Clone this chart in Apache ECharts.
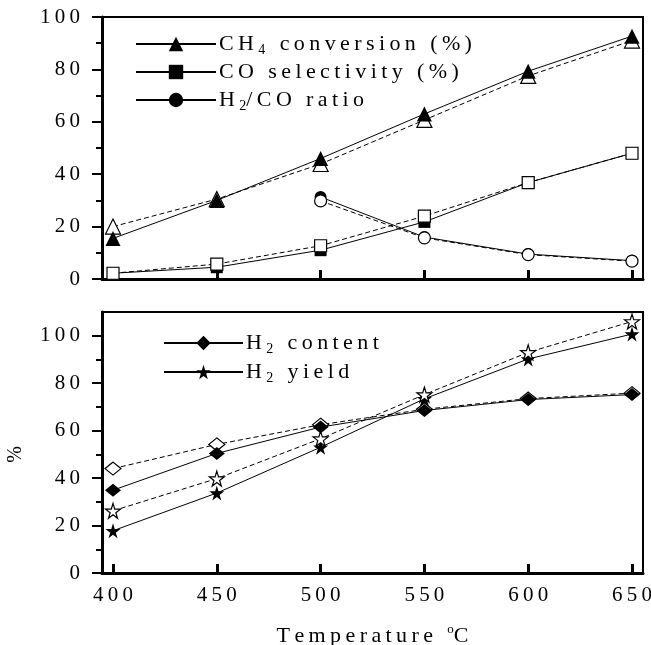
<!DOCTYPE html>
<html>
<head>
<meta charset="utf-8">
<script src="https://cdn.jsdelivr.net/npm/echarts@6/dist/echarts.min.js"></script>
<style>
  html, body { margin: 0; padding: 0; background: #fff; }
  #chart { width: 651px; height: 645px; }
</style>
</head>
<body>
<div id="chart"></div>
<script>
// temperatures (°C)
const temps = [400, 450, 500, 550, 600, 650]
const xTicks = [400, 450, 500, 550, 600, 650]
const yTicksTop = [0, 20, 40, 60, 80, 100]
const yTicksBottom = [0, 20, 40, 60, 80, 100]
const yMinorTop = [10, 30, 50, 70, 90]
const yMinorBottom = [10, 30, 50, 70, 90]

// top panel, filled = solid line, open = dashed line
const ch4Filled = [15.5, 30.0, 46.0, 63.0, 79.3, 92.7]
const ch4Open = [20.0, 30.5, 43.9, 60.7, 77.5, 91.0]
const coFilled = [2.2, 4.5, 11.0, 21.8, 36.8, 48.0]
const coOpen = [2.2, 5.7, 12.7, 24.0, 36.8, 48.0]
const ratioFilled = [null, null, 31.3, 16.0, 9.5, 7.0]
const ratioOpen = [null, null, 29.8, 15.7, 9.3, 6.8]

// bottom panel
const h2ContentFilled = [34.9, 50.4, 61.5, 68.5, 73.1, 75.2]
const h2ContentOpen = [44.0, 54.2, 62.5, 69.0, 73.5, 75.8]
const h2YieldFilled = [17.8, 33.7, 53.0, 73.4, 90.2, 100.7]
const h2YieldOpen = [26.2, 39.8, 56.6, 75.2, 93.0, 106.0]

const FONT = 'Liberation Serif'
const sp = s => s.split('').join('\u2009')
const pairs = vals => temps.map((t, i) => [t, vals[i]]).filter(p => p[1] != null)

const star = 'path://M50,0 L61,35 L98,35 L68,57 L79,91 L50,70 L21,91 L32,57 L2,35 L39,35 Z'

const legendText = {
  'CH4 conversion (%)': sp('CH') + '\u2009{sub|4}\u2009' + sp(' conversion (%)'),
  'CO selectivity (%)': sp('CO selectivity (%)'),
  'H2/CO ratio': sp('H') + '\u2009{sub|2}' + sp('/CO ratio'),
  'H2 content': sp('H') + '\u2009{sub|2}\u2009' + sp(' content'),
  'H2 yield': sp('H') + '\u2009{sub|2}\u2009' + sp(' yield')
}

function mk(name, vals, symbol, size, filled, xi, z) {
  return {
    name: name,
    type: 'line',
    xAxisIndex: xi,
    yAxisIndex: xi === 0 ? 0 : 2,
    data: pairs(vals),
    symbol: symbol,
    symbolSize: size,
    showAllSymbol: true,
    z: z,
    lineStyle: { color: '#000', width: 1, type: filled ? 'solid' : [5, 3] },
    itemStyle: filled
      ? { color: '#000', borderColor: '#000', borderWidth: 0 }
      : { color: '#fff', borderColor: '#000', borderWidth: 1.2 },
    emphasis: { disabled: true },
    animation: false
  }
}

const chart = echarts.init(document.getElementById('chart'))

const xBase = {
  type: 'value',
  min: 394.7,
  max: 655.3,
  splitLine: { show: false },
  axisLine: { show: true, onZero: false, lineStyle: { color: '#000', width: 3 } },
  axisTick: { show: true, inside: true, length: 9, customValues: xTicks, lineStyle: { color: '#000', width: 3 } }
}

function yMajor(grid, max, ticks) {
  return {
    type: 'value',
    gridIndex: grid,
    position: 'left',
    min: 0,
    max: max,
    splitLine: { show: false },
    axisLine: { show: true, onZero: false, lineStyle: { color: '#000', width: 3 } },
    axisTick: { show: true, length: 10, customValues: ticks, lineStyle: { color: '#000', width: 2 } },
    axisLabel: {
      customValues: ticks,
      margin: 22,
      color: '#000',
      fontFamily: FONT,
      fontSize: 21,
      formatter: v => sp(String(v))
    }
  }
}

function yMinor(grid, max, ticks) {
  return {
    type: 'value',
    gridIndex: grid,
    position: 'left',
    offset: 0,
    min: 0,
    max: max,
    splitLine: { show: false },
    axisLine: { show: false },
    axisTick: { show: true, length: 6, customValues: ticks, lineStyle: { color: '#000', width: 2 } },
    axisLabel: { show: false }
  }
}

function legendBox(names, left, top, width, gap) {
  return {
    data: names,
    orient: 'vertical',
    left: left,
    top: top,
    itemWidth: width,
    itemHeight: 18,
    itemGap: gap,
    itemStyle: { borderWidth: 0 },
    formatter: n => legendText[n],
    textStyle: {
      color: '#000',
      fontFamily: FONT,
      fontSize: 22,
      lineHeight: 26,
      padding: [0, 0, 0, -2],
      rich: {
        sub: { fontSize: 14, fontFamily: FONT, color: '#000', lineHeight: 9, verticalAlign: 'bottom' }
      }
    }
  }
}

const option = {
  backgroundColor: '#fff',
  animation: false,
  textStyle: { fontFamily: FONT },
  grid: [
    { left: 102, right: 8, top: 17, height: 262, show: true, borderColor: '#000', borderWidth: 2, outerBoundsMode: 'none', containLabel: false },
    { left: 102, right: 8, top: 312, height: 261, show: true, borderColor: '#000', borderWidth: 2, outerBoundsMode: 'none', containLabel: false }
  ],
  legend: [
    legendBox(['CH4 conversion (%)', 'CO selectivity (%)', 'H2/CO ratio'], 130, 26, 80, 2),
    legendBox(['H2 content', 'H2 yield'], 158, 325, 79, 3)
  ],
  xAxis: [
    Object.assign({}, xBase, { gridIndex: 0, axisLabel: { show: false } }),
    Object.assign({}, xBase, {
      gridIndex: 1,
      name: sp('Temperature ') + '\u2009{sup|o}' + sp('C'),
      nameLocation: 'middle',
      nameGap: 50,
      nameTextStyle: {
        color: '#000',
        fontFamily: FONT,
        fontSize: 22,
        lineHeight: 26,
        rich: { sup: { fontSize: 13, fontFamily: FONT, color: '#000', lineHeight: 12, verticalAlign: 'top' } }
      },
      axisLabel: {
        customValues: xTicks,
        margin: 12,
        color: '#000',
        fontFamily: FONT,
        fontSize: 21,
        formatter: v => sp(String(v))
      }
    })
  ],
  yAxis: [
    yMajor(0, 100, yTicksTop),
    yMinor(0, 100, yMinorTop),
    Object.assign(yMajor(1, 110, yTicksBottom), {
      name: '%',
      nameLocation: 'middle',
      nameGap: 76,
      nameTextStyle: { color: '#000', fontFamily: FONT, fontSize: 20, padding: [0, 24, 0, 0] }
    }),
    yMinor(1, 110, yMinorBottom)
  ],
  series: [
    mk('CH4 conversion (%) open', ch4Open, 'triangle', 15, false, 0, 2),
    mk('CH4 conversion (%)', ch4Filled, 'triangle', 15, true, 0, 3),
    mk('CO selectivity (%)', coFilled, 'rect', 12, true, 0, 2),
    mk('CO selectivity (%) open', coOpen, 'rect', 12, false, 0, 3),
    mk('H2/CO ratio', ratioFilled, 'circle', 12, true, 0, 2),
    mk('H2/CO ratio open', ratioOpen, 'circle', 12, false, 0, 3),
    mk('H2 content open', h2ContentOpen, 'diamond', [16, 13], false, 1, 2),
    mk('H2 content', h2ContentFilled, 'diamond', [16, 13], true, 1, 3),
    mk('H2 yield', h2YieldFilled, star, 15, true, 1, 2),
    mk('H2 yield open', h2YieldOpen, star, 15, false, 1, 3)
  ]
}

chart.setOption(option)
</script>
</body>
</html>
